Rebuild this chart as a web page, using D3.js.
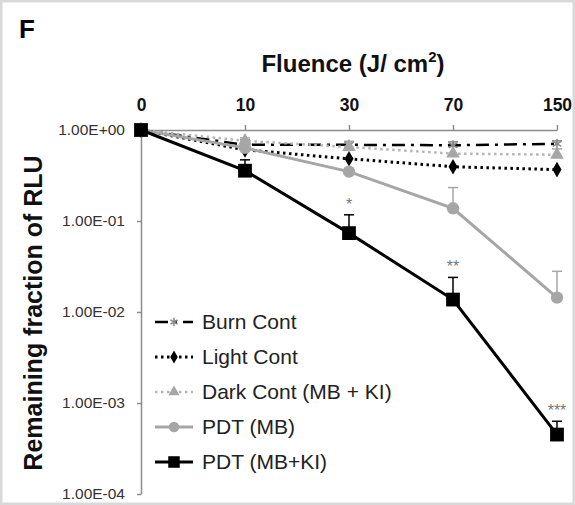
<!DOCTYPE html>
<html>
<head>
<meta charset="utf-8">
<script src="https://cdn.jsdelivr.net/npm/d3@7"></script>
<style>
body{margin:0;background:#fff;}
text{font-family:"Liberation Sans",Arial,sans-serif;}
</style>
</head>
<body>
<svg id="chart"></svg>
<script>
var width=575;
var height=505;

// data
var fluence=['0','10','30','70','150'];
var burnCont=[1,0.687,0.687,0.68,0.705];
var lightCont=[1,0.605,0.483,0.395,0.367];
var darkCont=[1,0.76,0.65,0.55,0.535];
var pdtMB=[1,0.636,0.349,0.138,0.0144];
var pdtMBKI=[1,0.357,0.0736,0.0137,0.00045];
// upper end of error bars
var burnErr=[null,0.78,0.75,0.74,0.76];
var darkErr=[null,0.82,0.74,0.66,0.62];
var pdtMBErr=[null,0.7,0.37,0.233,0.028];
var pdtMBKIErr=[null,0.47,0.117,0.024,0.00063];
var stars=['','','*','**','***'];
var yTicks=[1,0.1,0.01,0.001,0.0001];
var yTickLabels=['1.00E+00','1.00E-01','1.00E-02','1.00E-03','1.00E-04'];

var svg=d3.select('#chart')
	.attr('width',width)
	.attr('height',height);

svg.append('rect')
	.attr('x',1).attr('y',1)
	.attr('width',width-2).attr('height',height-2)
	.attr('fill','#fff')
	.attr('stroke','#d9d9d9')
	.attr('stroke-width',3);

var xScale=d3.scalePoint()
	.domain(fluence)
	.range([141,557]);
var yScale=d3.scaleLog()
	.domain([0.0001,1])
	.range([494,130]);

// axes
var xAxis=d3.axisTop(xScale)
	.tickSize(5)
	.tickSizeOuter(0)
	.tickPadding(14);
var gx=svg.append('g')
	.attr('transform','translate(0,130)')
	.call(xAxis);
gx.selectAll('path,line').attr('stroke','#8c8c8c').attr('stroke-width',1.5);
gx.selectAll('line').filter(d=>d==='0').remove();
gx.selectAll('text')
	.attr('font-size',17.5)
	.attr('font-weight','bold')
	.attr('fill','#111')
	.style('font-family','"Liberation Sans",Arial,sans-serif');

var yAxis=d3.axisLeft(yScale)
	.tickValues(yTicks)
	.tickFormat((d,i)=>yTickLabels[i])
	.tickSize(4)
	.tickSizeOuter(0)
	.tickPadding(12);
var gy=svg.append('g')
	.attr('transform','translate(141,0)')
	.call(yAxis);
gy.selectAll('path,line').attr('stroke','#8c8c8c').attr('stroke-width',1.5);
gy.selectAll('text')
	.attr('font-size',15.5)
	.attr('fill','#333')
	.style('font-family','"Liberation Sans",Arial,sans-serif');

// titles
svg.append('text')
	.attr('x',19).attr('y',38)
	.attr('font-size',26)
	.attr('font-weight','bold')
	.text('F');

var title=svg.append('text')
	.attr('x',353).attr('y',72)
	.attr('text-anchor','middle')
	.attr('font-size',24)
	.attr('font-weight','bold')
	.attr('fill','#111');
title.append('tspan').text('Fluence (J/ cm');
title.append('tspan').attr('font-size',15).attr('dy',-10).text('2');
title.append('tspan').attr('dy',10).text(')');

svg.append('text')
	.attr('transform','rotate(-90)')
	.attr('x',-313).attr('y',42)
	.attr('text-anchor','middle')
	.attr('font-size',25)
	.attr('font-weight','bold')
	.attr('fill','#111')
	.text('Remaining fraction of RLU');

var series=[
	{name:'Burn Cont',vals:burnCont,err:burnErr,color:'#000',dash:'13,6,3,6',width:2.5,sym:d3.symbolAsterisk,symSize:70,symColor:'#888'},
	{name:'Light Cont',vals:lightCont,err:null,color:'#000',dash:'2.5,3.5',width:3,sym:d3.symbolDiamond,symSize:70,symColor:'#000'},
	{name:'Dark Cont (MB + KI)',vals:darkCont,err:darkErr,color:'#b5b5b5',dash:'2.5,3.5',width:2.5,sym:d3.symbolTriangle,symSize:80,symColor:'#a6a6a6'},
	{name:'PDT (MB)',vals:pdtMB,err:pdtMBErr,color:'#a6a6a6',dash:null,width:3,sym:d3.symbolCircle,symSize:120,symColor:'#a6a6a6'},
	{name:'PDT (MB+KI)',vals:pdtMBKI,err:pdtMBKIErr,color:'#000',dash:null,width:3,sym:d3.symbolSquare,symSize:190,symColor:'#000'}
];

var line=d3.line()
	.x((d,i)=>xScale(fluence[i]))
	.y(d=>yScale(d));

// error bars
series.forEach(function(s){
	if(!s.err) return;
	var g=svg.append('g');
	s.err.forEach(function(e,i){
		if(e===null) return;
		var x=xScale(fluence[i]);
		g.append('line')
			.attr('x1',x).attr('x2',x)
			.attr('y1',yScale(s.vals[i])).attr('y2',yScale(e))
			.attr('stroke',s.symColor).attr('stroke-width',1.5);
		g.append('line')
			.attr('x1',x-5).attr('x2',x+5)
			.attr('y1',yScale(e)).attr('y2',yScale(e))
			.attr('stroke',s.symColor).attr('stroke-width',1.5);
	});
});

series.forEach(function(s){
	svg.append('path')
		.datum(s.vals)
		.attr('d',line)
		.attr('fill','none')
		.attr('stroke',s.color)
		.attr('stroke-width',s.width)
		.attr('stroke-dasharray',s.dash);
	svg.selectAll(null)
		.data(s.vals)
		.enter()
		.append('path')
		.attr('transform',(d,i)=>'translate('+xScale(fluence[i])+','+yScale(d)+')')
		.attr('d',d3.symbol().type(s.sym).size(s.symSize))
		.attr('fill',s.sym===d3.symbolAsterisk?'none':s.symColor)
		.attr('stroke',s.symColor)
		.attr('stroke-width',s.sym===d3.symbolAsterisk?1.5:0);
});

// significance stars
svg.selectAll('.star')
	.data(stars)
	.enter()
	.append('text')
	.attr('x',(d,i)=>xScale(fluence[i]))
	.attr('y',(d,i)=>pdtMBKIErr[i]?yScale(pdtMBKIErr[i])-5:0)
	.attr('text-anchor','middle')
	.attr('font-size',16)
	.attr('fill','#777')
	.text(d=>d);

// legend
var legend=svg.append('g').attr('transform','translate(155,322)');
series.forEach(function(s,i){
	var g=legend.append('g').attr('transform','translate(0,'+(i*35)+')');
	g.append('line')
		.attr('x1',0).attr('x2',38)
		.attr('stroke',s.color)
		.attr('stroke-width',s.width)
		.attr('stroke-dasharray',s.dash);
	g.append('path')
		.attr('transform','translate(19,0)')
		.attr('d',d3.symbol().type(s.sym).size(s.symSize*0.7))
		.attr('fill',s.sym===d3.symbolAsterisk?'none':s.symColor)
		.attr('stroke',s.symColor)
		.attr('stroke-width',s.sym===d3.symbolAsterisk?1.5:0);
	g.append('text')
		.attr('x',47).attr('y',7)
		.attr('font-size',21)
		.attr('fill','#222')
		.text(s.name);
});
</script>
</body>
</html>
